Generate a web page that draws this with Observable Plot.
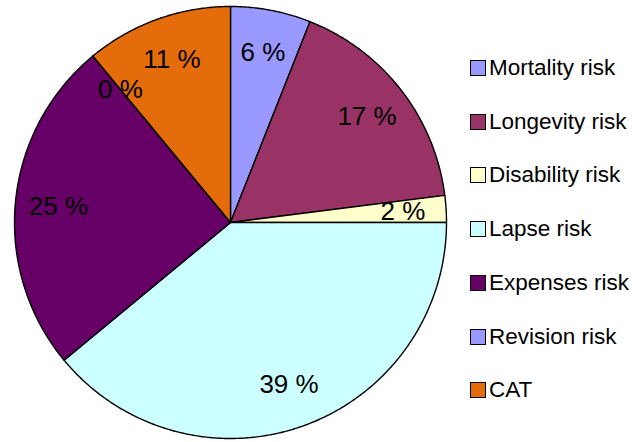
<!DOCTYPE html>
<html>
<head>
<meta charset="utf-8">
<script src="https://cdn.jsdelivr.net/npm/d3@7"></script>
<script src="https://cdn.jsdelivr.net/npm/@observablehq/plot@0.6"></script>
<style>
  html, body { margin: 0; padding: 0; background: #fff; }
  #wrap { position: relative; width: 632px; height: 442px; font-family: "Liberation Sans", Arial, sans-serif; }
  #legend { position: absolute; left: 470px; top: 41px; }
  .row { height: 53.75px; display: flex; align-items: center; font-size: 22.5px; color: #000; }
  .sw { width: 16px; height: 16px; box-sizing: border-box; border: 1.5px solid #000; margin-right: 3px; flex: none; }
</style>
</head>
<body>
<div id="wrap"></div>
<script>
const categories = ["Mortality risk", "Longevity risk", "Disability risk", "Lapse risk", "Expenses risk", "Revision risk", "CAT"];
const values = [6, 17, 2, 39, 25, 0, 11];
const colors = ["#9999FF", "#993366", "#FFFFCC", "#CCFFFF", "#660066", "#9999FF", "#E46C0A"];

const total = d3.sum(values);
const slices = [];
let acc = 0;
categories.forEach((c, i) => {
  const a0 = acc / total * 2 * Math.PI;
  acc += values[i];
  const a1 = acc / total * 2 * Math.PI;
  slices.push({key: c, value: values[i], a0, a1, mid: (a0 + a1) / 2});
});

// polygon points for each slice (center -> arc -> center), unit radius
const pts = [];
for (const s of slices) {
  pts.push({key: s.key, x: 0, y: 0});
  const n = Math.max(1, Math.ceil((s.a1 - s.a0) / (Math.PI / 360)));
  for (let k = 0; k <= n; k++) {
    const a = s.a0 + (s.a1 - s.a0) * k / n;
    pts.push({key: s.key, x: Math.sin(a), y: Math.cos(a)});
  }
  pts.push({key: s.key, x: 0, y: 0});
}

const labels = slices.map(s => ({
  text: s.value + " %",
  x: 0.8 * Math.sin(s.mid),
  y: 0.8 * Math.cos(s.mid)
}));

const chart = Plot.plot({
  width: 632,
  height: 442,
  marginLeft: 14,
  marginRight: 186,
  marginTop: 6,
  marginBottom: 4,
  x: {domain: [-1, 1], axis: null},
  y: {domain: [-1, 1], axis: null},
  color: {domain: categories, range: colors},
  style: {fontFamily: "'Liberation Sans', Arial, sans-serif", background: "transparent"},
  marks: [
    Plot.line(pts, {x: "x", y: "y", z: "key", fill: "key", stroke: "#000", strokeWidth: 1.4, strokeLinejoin: "round", curve: "linear"}),
    Plot.text(labels, {x: "x", y: "y", text: "text", fontSize: 26, fill: "#000", textAnchor: "middle"})
  ]
});

const wrap = document.getElementById("wrap");
wrap.appendChild(chart);

const legend = document.createElement("div");
legend.id = "legend";
categories.forEach((c, i) => {
  const row = document.createElement("div");
  row.className = "row";
  const sw = document.createElement("span");
  sw.className = "sw";
  sw.style.background = colors[i];
  const t = document.createElement("span");
  t.textContent = c;
  row.appendChild(sw);
  row.appendChild(t);
  legend.appendChild(row);
});
wrap.appendChild(legend);
</script>
</body>
</html>
